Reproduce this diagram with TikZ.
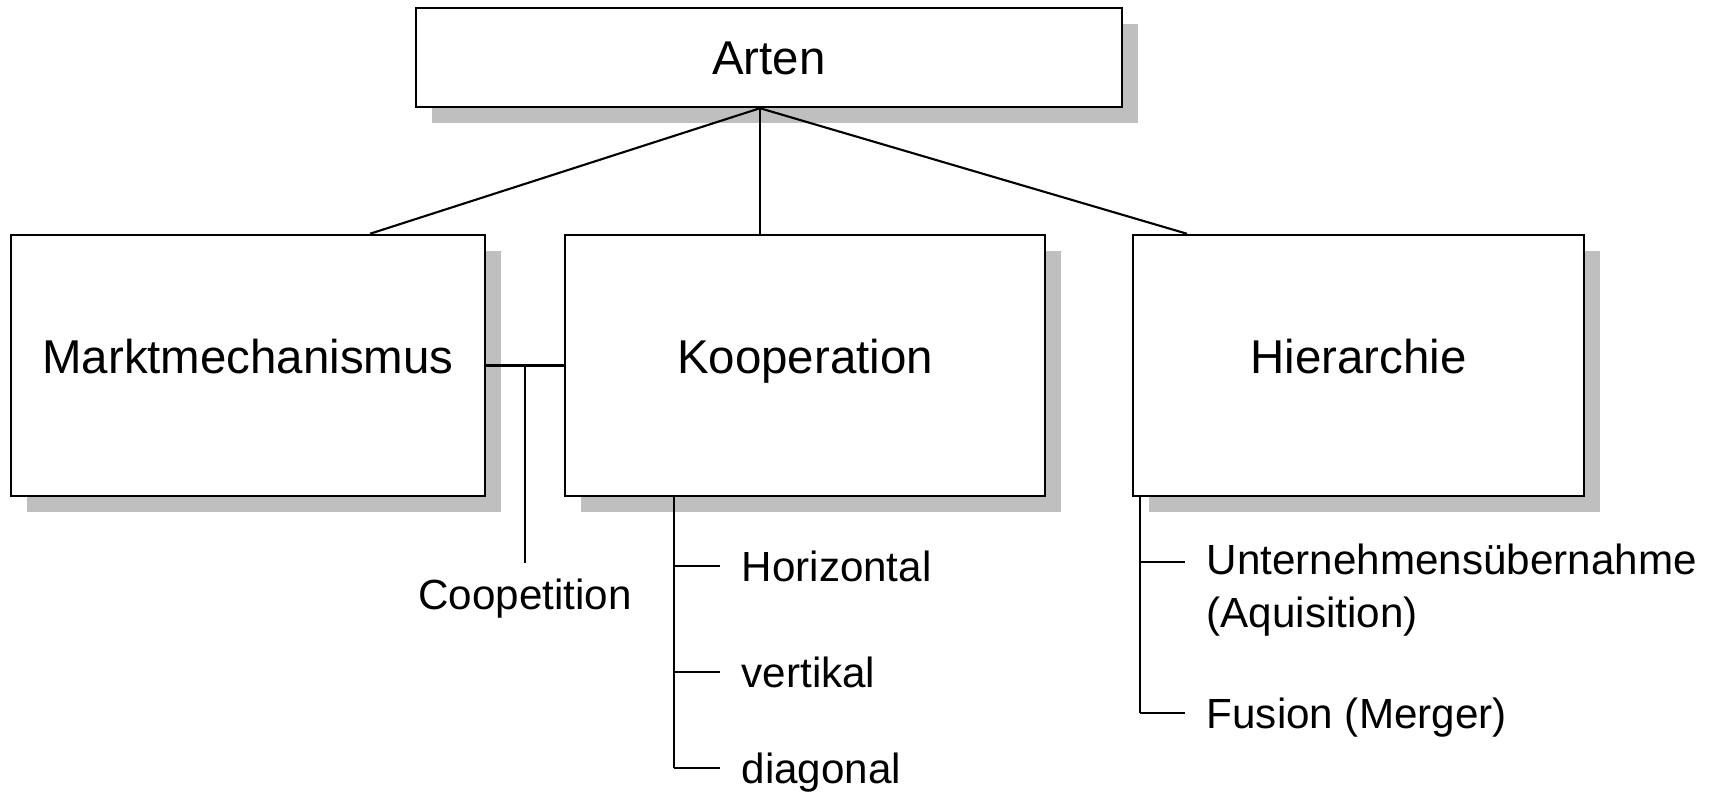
\documentclass[tikz,border=0pt]{standalone}
\usepackage{fontspec}
\setmainfont{Liberation Sans}
\usetikzlibrary{positioning, calc, shadows}

\tikzset{
	box/.style={draw, line width=0.7pt, fill=white,
		drop shadow={shadow xshift=0.16cm, shadow yshift=-0.16cm, fill=gray!50, opacity=1},
		font=\fontsize{13.5}{16}\selectfont},
	lab/.style={font=\fontsize{12}{15}\selectfont, inner xsep=0.21cm},
	leaf/.style={lab, anchor=west, text height=0.31cm, text depth=0pt},
	link/.style={line width=0.6pt}
}

\begin{document}
\begin{tikzpicture}
	\useasboundingbox (0,0) rectangle (17.16,-7.94);
	% boxes
	\node[box, minimum width=7.06cm, minimum height=0.99cm, text height=0.35cm, text depth=0pt] (arten) at (7.69,-0.575) {Arten};
	\node[box, minimum width=4.74cm, minimum height=2.61cm, text height=0.35cm, text depth=0.19cm] (markt) at (2.48,-3.655) {Marktmechanismus};
	\node[box, minimum width=4.80cm, minimum height=2.61cm, text height=0.35cm, text depth=0.19cm] (koop) at (8.05,-3.655) {Kooperation};
	\node[box, minimum width=4.51cm, minimum height=2.61cm, text height=0.35cm, text depth=0.19cm] (hier) at (13.585,-3.655) {Hierarchie};

	% from Arten down
	\coordinate (fork) at ($(arten.south)+(-0.09,0)$);
	\draw[link] (fork) -- ($(markt.north)+(1.22,0)$);
	\draw[link] (fork) -- (fork |- koop.north);
	\draw[link] (fork) -- ($(hier.north)+(-1.715,0)$);

	% Coopetition
	\draw[link] (markt) -- (koop);
	\coordinate (coopfork) at ($(markt.east)!0.5!(koop.west)$);
	\coordinate (coopend) at ($(coopfork)+(0,-1.98)$);
	\node[lab, inner ysep=0.15cm, below=0pt of coopend] (coop) {Coopetition};
	\draw[link] (coopfork) -- (coop.north);

	% Kooperation
	\coordinate (koopstem) at ($(koop.south west)+(1.10,0)$);
	\foreach \name/\y/\txt in {horiz/5.66/Horizontal, vert/6.72/vertikal, diag/7.68/diagonal} {
		\node[leaf] (\name) at (7.20,-\y) {\txt};
		\draw[link] (koopstem |- \name.west) -- (\name.west);
	}
	\draw[link] (koopstem) -- (koopstem |- diag.west);

	% Hierarchie
	\coordinate (hierstem) at ($(hier.south west)+(0.08,0)$);
	\node[lab, align=left, anchor=north west] (uebern) at (11.85,-5.32) {Unternehmensübernahme\\(Aquisition)};
	\node[leaf] (fusion) at (11.85,-7.13) {Fusion (Merger)};
	\draw[link] (hierstem |- uebern.north west) ++(0,-0.30) -- ($(uebern.north west)+(0,-0.30)$);
	\draw[link] (hierstem |- fusion.west) -- (fusion.west);
	\draw[link] (hierstem) -- (hierstem |- fusion.west);
\end{tikzpicture}
\end{document}
